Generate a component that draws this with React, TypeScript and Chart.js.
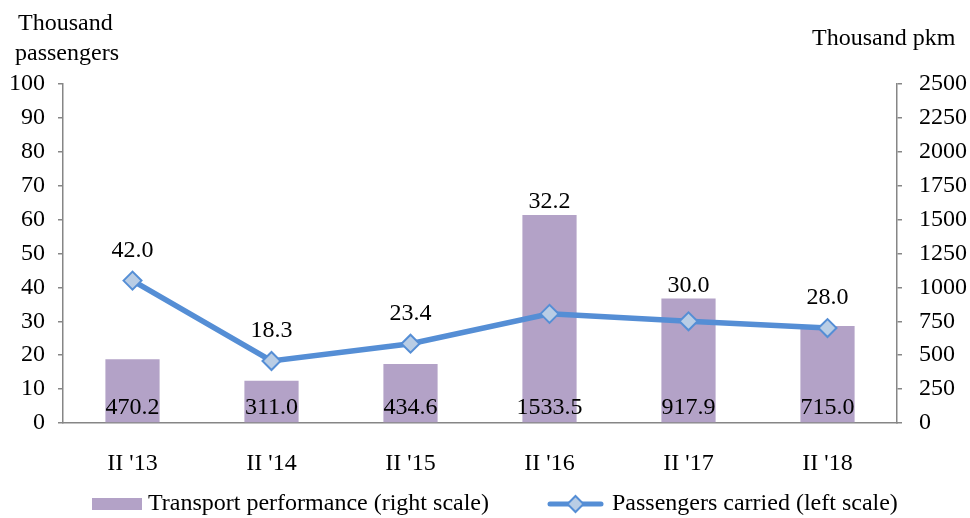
import React, { useEffect, useRef } from "react";
import { Chart, registerables } from "chart.js";

Chart.register(...registerables);

const categories = ["II '13", "II '14", "II '15", "II '16", "II '17", "II '18"];
const transportPerformance = [470.2, 311.0, 434.6, 1533.5, 917.9, 715.0];
const passengersCarried = [42.0, 18.3, 23.4, 32.2, 30.0, 28.0];
const leftTicks = [0, 10, 20, 30, 40, 50, 60, 70, 80, 90, 100];
const rightTicks = [0, 250, 500, 750, 1000, 1250, 1500, 1750, 2000, 2250, 2500];
const barLegend = "Transport performance (right scale)";
const lineLegend = "Passengers carried (left scale)";
const leftTitle = ["Thousand", "passengers"];
const rightTitle = "Thousand pkm";

const FONT = "'Liberation Serif', 'Times New Roman', serif";
const FS = 24;
const BAR_COLOR = "#B3A2C7";
const LINE_COLOR = "#558ED5";
const MARKER_FILL = "#B9CDE5";
const AXIS_COLOR = "#868686";

function drawDiamond(ctx: CanvasRenderingContext2D, x: number, y: number, r: number) {
  ctx.beginPath();
  ctx.moveTo(x, y - r);
  ctx.lineTo(x + r, y);
  ctx.lineTo(x, y + r);
  ctx.lineTo(x - r, y);
  ctx.closePath();
  ctx.fillStyle = MARKER_FILL;
  ctx.fill();
  ctx.lineWidth = 2;
  ctx.strokeStyle = LINE_COLOR;
  ctx.stroke();
}

const overlayPlugin = {
  id: "overlay",
  afterDraw(chart: any) {
    const ctx: CanvasRenderingContext2D = chart.ctx;
    ctx.save();
    ctx.font = `${FS}px ${FONT}`;
    ctx.fillStyle = "#000";
    ctx.textAlign = "left";
    ctx.textBaseline = "middle";
    ctx.fillText(leftTitle[0], 18, 24);
    ctx.fillText(leftTitle[1], 15, 54);
    ctx.fillText(rightTitle, 812, 39);

    const barMeta = chart.getDatasetMeta(0);
    const lineMeta = chart.getDatasetMeta(1);
    const xAxisY = chart.chartArea.bottom;
    ctx.textAlign = "center";
    ctx.textBaseline = "middle";
    barMeta.data.forEach((bar: any, i: number) => {
      ctx.fillText(transportPerformance[i].toFixed(1), bar.x, xAxisY - 15);
    });
    lineMeta.data.forEach((pt: any, i: number) => {
      const barTop = barMeta.data[i].y;
      const y = Math.min(pt.y - 30, barTop - 13);
      ctx.fillText(passengersCarried[i].toFixed(1), pt.x, y);
    });

    const ly = 504;
    ctx.fillStyle = BAR_COLOR;
    ctx.fillRect(92, ly - 6, 50, 12);
    ctx.fillStyle = "#000";
    ctx.textAlign = "left";
    ctx.fillText(barLegend, 148, ly);

    ctx.beginPath();
    ctx.moveTo(550, ly);
    ctx.lineTo(601, ly);
    ctx.lineWidth = 5;
    ctx.strokeStyle = LINE_COLOR;
    ctx.lineCap = "round";
    ctx.stroke();
    drawDiamond(ctx, 575.5, ly, 8);
    ctx.fillStyle = "#000";
    ctx.fillText(lineLegend, 612, ly);
    ctx.restore();
  },
};

export default function App() {
  const ref = useRef<HTMLCanvasElement | null>(null);
  useEffect(() => {
    if (!ref.current) return;
    const chart = new Chart(ref.current, {
      type: "bar",
      data: {
        labels: categories,
        datasets: [
          {
            type: "bar",
            label: barLegend,
            data: transportPerformance,
            backgroundColor: BAR_COLOR,
            yAxisID: "yRight",
            categoryPercentage: 1,
            barPercentage: 0.39,
            order: 2,
          },
          {
            type: "line",
            label: lineLegend,
            data: passengersCarried,
            borderColor: LINE_COLOR,
            borderWidth: 5.5,
            pointStyle: "rectRot",
            pointRadius: 9,
            pointBackgroundColor: MARKER_FILL,
            pointBorderColor: LINE_COLOR,
            pointBorderWidth: 2,
            yAxisID: "yLeft",
            tension: 0,
            order: 1,
          } as any,
        ],
      },
      options: {
        animation: false,
        responsive: false,
        maintainAspectRatio: false,
        layout: { padding: { top: 84, left: 0, right: 0, bottom: 0 } },
        plugins: { legend: { display: false }, tooltip: { enabled: false } },
        scales: {
          x: {
            grid: { display: false },
            border: { display: true, color: AXIS_COLOR, width: 1.5 },
            ticks: { font: { family: FONT, size: FS }, color: "#000", padding: 18 },
            afterFit: (s: any) => { s.height = 518 - 423; },
          },
          yLeft: {
            position: "left",
            min: 0,
            max: 100,
            afterBuildTicks: (s: any) => { s.ticks = leftTicks.map((v) => ({ value: v })); },
            grid: { drawOnChartArea: false, tickLength: 5, color: AXIS_COLOR, lineWidth: 1.5 },
            border: { display: true, color: AXIS_COLOR, width: 1.5 },
            ticks: { font: { family: FONT, size: FS }, color: "#000", padding: 13, callback: (v: any) => String(v) },
            afterFit: (s: any) => { s.width = 63; },
          },
          yRight: {
            position: "right",
            min: 0,
            max: 2500,
            afterBuildTicks: (s: any) => { s.ticks = rightTicks.map((v) => ({ value: v })); },
            grid: { drawOnChartArea: false, tickLength: 5, color: AXIS_COLOR, lineWidth: 1.5 },
            border: { display: true, color: AXIS_COLOR, width: 1.5 },
            ticks: { font: { family: FONT, size: FS }, color: "#000", padding: 17, callback: (v: any) => String(v) },
            afterFit: (s: any) => { s.width = 970 - 897; },
          },
        },
      },
      plugins: [overlayPlugin],
    });
    return () => chart.destroy();
  }, []);
  return (
    <div style={{ position: "fixed", left: 0, top: 0, width: 970, height: 518, background: "#fff" }}>
      <canvas ref={ref} width={970} height={518} style={{ width: 970, height: 518 }} />
    </div>
  );
}
